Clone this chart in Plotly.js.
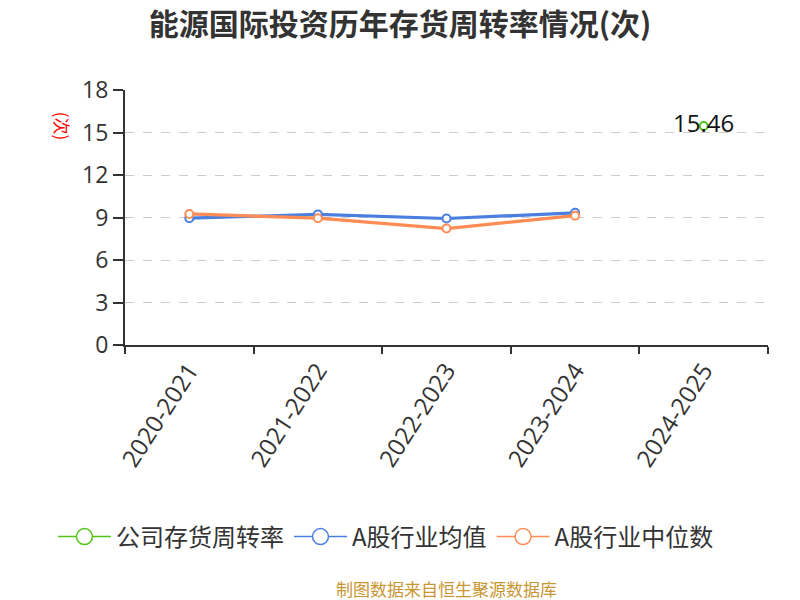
<!DOCTYPE html>
<html>
<head>
<meta charset="utf-8">
<script src="https://cdn.plot.ly/plotly-3.0.1.min.js"></script>
<style>body{margin:0;background:#fff;}#chart{width:800px;height:600px;}</style>
</head>
<body>
<div id="chart"></div>
<script>
const categories = ["2020-2021", "2021-2022", "2022-2023", "2023-2024", "2024-2025"];
const companyValues = [null, null, null, null, 15.46];
const companyLabels = ["", "", "", "", "15.46"];
const industryAvg = [8.95, 9.22, 8.93, 9.33, null];
const industryMedian = [9.25, 8.95, 8.22, 9.13, null];
const seriesNames = ["公司存货周转率", "A股行业均值", "A股行业中位数"];
const seriesColors = ["#52c41a", "#4a7fe0", "#ff8c55"];
const yTicks = [0, 3, 6, 9, 12, 15, 18];

const FONT = '"Noto Sans CJK SC", "Noto Sans", sans-serif';
const TICKFONT = '"Open Sans", "Noto Sans", sans-serif';

const seriesData = [companyValues, industryAvg, industryMedian];

const traces = [];
seriesData.forEach((vals, i) => {
  const t = {
    x: categories, y: vals, name: seriesNames[i], legendgroup: "g" + i, showlegend: false,
    mode: "lines+markers",
    line: {color: seriesColors[i], width: 3.2},
    marker: {symbol: "circle", size: 8, color: "#fff", line: {color: seriesColors[i], width: 2}},
    cliponaxis: false
  };
  if (i === 0) {
    t.mode = "lines+markers+text";
    t.text = companyLabels;
    t.textposition = "middle center";
    t.textfont = {size: 24, color: "#111", family: TICKFONT};
  }
  traces.push(t);
});
// legend-only entries with larger symbols
seriesNames.forEach((nm, i) => {
  traces.push({
    x: [null], y: [null], name: nm, legendgroup: "g" + i, showlegend: true,
    mode: "lines+markers",
    line: {color: seriesColors[i], width: 1.5},
    marker: {symbol: "circle", size: 16, color: "#fff", line: {color: seriesColors[i], width: 1.5}}
  });
});

const layout = {
  width: 800, height: 600,
  margin: {l: 125, r: 32, t: 90, b: 255},
  paper_bgcolor: "#fff", plot_bgcolor: "#fff",
  font: {family: FONT, color: "#333"},
  title: {text: "<b>能源国际投资历年存货周转率情况(次)</b>", xref: "container", x: 0.5, xanchor: "center",
          yref: "container", y: 0.96, yanchor: "middle",
          font: {size: 30, color: "#333", family: FONT}},
  showlegend: true,
  legend: {orientation: "h", x: -0.112, xanchor: "left", y: -0.753, yanchor: "middle",
           font: {size: 24, color: "#333", family: FONT}, itemwidth: 53, traceorder: "normal"},
  xaxis: {
    type: "category", range: [-0.5, 4.5], tickson: "boundaries",
    showline: true, linecolor: "#333", linewidth: 2,
    ticks: "outside", ticklen: 7, tickcolor: "#333", tickwidth: 2,
    tickangle: -57, tickfont: {size: 24, color: "#333", family: TICKFONT},
    showgrid: false, zeroline: false, fixedrange: true
  },
  yaxis: {
    range: [0, 18], tickmode: "array", tickvals: yTicks, ticktext: yTicks.map(String),
    showline: true, linecolor: "#333", linewidth: 2,
    ticks: "outside", ticklen: 10, tickcolor: "#333", tickwidth: 2,
    tickfont: {size: 23, color: "#333", family: TICKFONT},
    showgrid: true, gridcolor: "#cccccc", griddash: "dash", gridwidth: 1,
    zeroline: false, fixedrange: true
  },
  annotations: [
    {text: "(次)", xref: "paper", yref: "paper", x: -0.097, y: 0.857, xanchor: "center", yanchor: "middle",
     showarrow: false, textangle: 90, font: {size: 17, color: "#ff0000", family: FONT}},
    {text: "制图数据来自恒生聚源数据库", xref: "paper", yref: "paper", x: 0.5, y: -0.955,
     xanchor: "center", yanchor: "middle", showarrow: false,
     font: {size: 17, color: "#c89632", family: FONT}}
  ]
};

Plotly.newPlot("chart", traces, layout, {displayModeBar: false, staticPlot: true});
</script>
</body>
</html>
